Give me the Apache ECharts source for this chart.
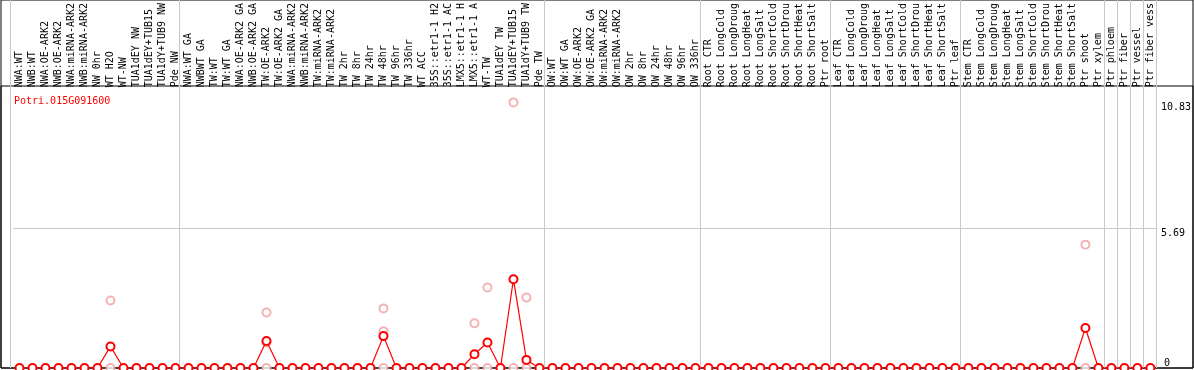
<!DOCTYPE html>
<html>
<head>
<meta charset="utf-8">
<style>
  html, body { margin: 0; padding: 0; background: #fff; }
  #chart { width: 1194px; height: 370px; }
</style>
<script src="https://cdn.jsdelivr.net/npm/echarts@6/dist/echarts.min.js"></script>
</head>
<body>
<div id="chart"></div>
<script>
// gene shown in the corner
const geneId = 'Potri.015G091600';

// sample names, in plotting order
const categories = [
  // NW
  'NWA:WT', 'NWB:WT', 'NWA:OE-ARK2', 'NWB:OE-ARK2', 'NWA:miRNA-ARK2', 'NWB:miRNA-ARK2',
  'NW 0hr', 'WT H2O', 'WT-NW', 'TUA1dEY NW', 'TUA1dEY+TUB15', 'TUA1dY+TUB9 NW', 'Pde NW',
  // TW
  'NWA:WT GA', 'NWBWT GA', 'TW:WT', 'TW:WT GA', 'NWA:OE-ARK2 GA', 'NWB:OE-ARK2 GA',
  'TW:OE-ARK2', 'TW:OE-ARK2 GA', 'NWA:miRNA-ARK2', 'NWB:miRNA-ARK2', 'TW:miRNA-ARK2', 'TW:miRNA-ARK2',
  'TW 2hr', 'TW 8hr', 'TW 24hr', 'TW 48hr', 'TW 96hr', 'TW 336hr', 'WT ACC',
  '35S::etr1-1 H2O', '35S::etr1-1 ACC', 'LMX5::etr1-1 H2O', 'LMX5::etr1-1 ACC',
  'WT-TW', 'TUA1dEY TW', 'TUA1dEY+TUB15', 'TUA1dY+TUB9 TW', 'Pde TW',
  // OW
  'OW:WT', 'OW:WT GA', 'OW:OE-ARK2', 'OW:OE-ARK2 GA', 'OW:miRNA-ARK2', 'OW:miRNA-ARK2',
  'OW 2hr', 'OW 8hr', 'OW 24hr', 'OW 48hr', 'OW 96hr', 'OW 336hr',
  // root
  'Root CTR', 'Root LongCold', 'Root LongDrought', 'Root LongHeat', 'Root LongSalt',
  'Root ShortCold', 'Root ShortDrought', 'Root ShortHeat', 'Root ShortSalt', 'Ptr root',
  // leaf
  'Leaf CTR', 'Leaf LongCold', 'Leaf LongDrought', 'Leaf LongHeat', 'Leaf LongSalt',
  'Leaf ShortCold', 'Leaf ShortDrought', 'Leaf ShortHeat', 'Leaf ShortSalt', 'Ptr leaf',
  // stem
  'Stem CTR', 'Stem LongCold', 'Stem LongDrought', 'Stem LongHeat', 'Stem LongSalt',
  'Stem ShortCold', 'Stem ShortDrought', 'Stem ShortHeat', 'Stem ShortSalt', 'Ptr shoot',
  // tissues
  'Ptr xylem', 'Ptr phloem', 'Ptr fiber', 'Ptr vessel', 'Ptr fiber vessel'
];

// mean expression per sample (red line)
const meanValues = [
  0, 0, 0, 0, 0, 0, 0, 0.88, 0, 0, 0, 0, 0,
  0, 0, 0, 0, 0, 0, 1.10, 0, 0, 0, 0, 0, 0, 0, 0, 1.30, 0, 0, 0, 0, 0, 0, 0.56, 1.04, 0, 3.62, 0.33, 0,
  0, 0, 0, 0, 0, 0, 0, 0, 0, 0, 0, 0,
  0, 0, 0, 0, 0, 0, 0, 0, 0, 0,
  0, 0, 0, 0, 0, 0, 0, 0, 0, 0,
  0, 0, 0, 0, 0, 0, 0, 0, 0, 1.63,
  0, 0, 0, 0, 0
];

// single replicates [sample index, value] (pale circles)
const replicatePoints = [
  [7, 2.75], [7, 0],
  [19, 2.26], [19, 1.04], [19, 0],
  [28, 2.43], [28, 1.50], [28, 0],
  [35, 1.82], [35, 0],
  [36, 3.28], [36, 0],
  [38, 10.83], [38, 0],
  [39, 2.87], [39, 0],
  [82, 5.03], [82, 0]
];

// right-hand tick labels
const yTickLabels = [0, 5.69, 10.83];

// first sample of each block (grey separators)
const groupStarts = [0, 13, 41, 53, 63, 73, 84, 85, 86, 87];

const yMax = 14.87;
const monoFont = 'DejaVu Sans Mono';

const chart = echarts.init(document.getElementById('chart'));

chart.setOption({
  animation: false,
  backgroundColor: '#fff',
  title: {
    text: geneId,
    left: 9,
    top: 91,
    textStyle: { color: '#ff0000', fontFamily: monoFont, fontSize: 10, fontWeight: 'normal' }
  },
  grid: [
    // data + labels
    { left: 13, right: 37, top: 0, bottom: 2 },
    // block separators sit a little left of the samples
    { left: 10, right: 38, top: 0, bottom: 2 },
    // outer frame and the line under the labels
    { left: 1, right: 1, top: 0, bottom: 2, show: true, borderColor: '#000', borderWidth: 1 },
    { left: 1, right: 1, top: 86, bottom: 2, show: true, borderColor: '#000', borderWidth: 1 }
  ],
  xAxis: [{
    type: 'category',
    gridIndex: 0,
    data: categories,
    position: 'top',
    offset: -86,
    boundaryGap: true,
    axisLine: { show: false },
    axisTick: { show: false },
    axisLabel: {
      interval: 0,
      rotate: 90,
      margin: 2,
      color: '#000',
      fontFamily: monoFont,
      fontSize: 10,
      width: 86,
      overflow: 'truncate',
      ellipsis: ''
    },
    splitLine: { show: false }
  }, {
    type: 'category',
    gridIndex: 1,
    data: categories,
    boundaryGap: true,
    axisLine: { show: false },
    axisTick: { show: false },
    axisLabel: { show: false },
    splitLine: {
      show: true,
      interval: (idx) => groupStarts.includes(idx),
      lineStyle: { color: '#c8c8c8', width: 1 }
    }
  }],
  yAxis: [{
    type: 'value',
    gridIndex: 0,
    min: 0,
    max: yMax,
    position: 'right',
    axisLine: { show: false },
    axisTick: { show: false, customValues: [yTickLabels[1]] },
    splitLine: { show: true, lineStyle: { color: '#c8c8c8', width: 1 } },
    axisLabel: {
      customValues: yTickLabels.slice(1),
      verticalAlign: 'top',
      align: 'left',
      margin: 4,
      color: '#000',
      fontFamily: monoFont,
      fontSize: 10
    }
  }, {
    type: 'value',
    gridIndex: 0,
    min: 0,
    max: yMax,
    position: 'right',
    axisLine: { show: false },
    axisTick: { show: false },
    splitLine: { show: false },
    axisLabel: {
      customValues: yTickLabels.slice(0, 1),
      verticalAlign: 'bottom',
      align: 'left',
      margin: 7,
      color: '#000',
      fontFamily: monoFont,
      fontSize: 10
    }
  }, {
    type: 'value',
    gridIndex: 1,
    min: 0,
    max: yMax,
    show: false
  }],
  series: [{
    name: 'replicates',
    type: 'scatter',
    data: replicatePoints,
    symbol: 'emptyCircle',
    symbolSize: 8,
    itemStyle: { color: '#f0a0a0', borderColor: '#f0a0a0', borderWidth: 1.3 },
    z: 2
  }, {
    name: 'mean',
    type: 'line',
    data: meanValues,
    symbol: 'emptyCircle',
    symbolSize: 8,
    showAllSymbol: true,
    lineStyle: { color: '#ff0000', width: 1.2 },
    itemStyle: { color: '#ff0000', borderColor: '#ff0000', borderWidth: 1.5 },
    z: 3
  }]
});
</script>
</body>
</html>
